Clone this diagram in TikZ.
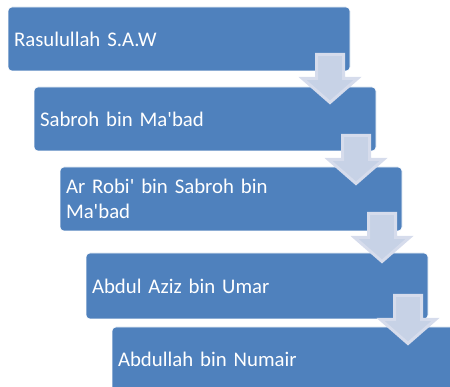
\documentclass[tikz,border=0pt]{standalone}
\usepackage{fontspec}
\setmainfont{Carlito}
\usepackage{tikz}
\usetikzlibrary{calc,positioning}

\definecolor{stepblue}{HTML}{4F81BD}
\definecolor{arrowfill}{HTML}{C7D2E6}
\definecolor{arrowline}{HTML}{D6DCEC}
\newcommand{\apos}{\textquotesingle}

\begin{document}
\begin{tikzpicture}[x=1pt,y=1pt,
    stepbox/.style={draw=white, line width=0.6pt, fill=stepblue, rounded corners=4pt,
        anchor=north west, minimum height=64pt, text width=330pt, inner xsep=6pt,
        inner ysep=0pt, outer sep=0pt, align=left, text=white,
        font=\fontsize{20.8}{24.5}\selectfont},
    downarrow/.pic={
        \draw[fill=arrowfill, draw=arrowline, line width=3pt]
        (-13.5,0) -- (13.5,0) -- (13.5,-24) -- (27.5,-24) -- (0,-48)
        -- (-27.5,-24) -- (-13.5,-24) -- cycle;
    }]
    \useasboundingbox (0,0) rectangle (450,-387);
    \clip (0,0) rectangle (450,-387);

    \node[stepbox] (n0) at (8,-7) {Rasulullah S.A.W};
    \node[stepbox] (n1) at (34,-87) {Sabroh bin Ma\apos bad};
    \node[stepbox] (n2) at (60,-167) {Ar Robi\apos{} bin Sabroh bin\\Ma\apos bad};
    \node[stepbox, minimum height=66pt] (n3) at (86,-253) {Abdul Aziz bin Umar};
    \node[stepbox] (n4) at (112,-327) {Abdullah bin Numair};

    \pic at ($(n0.south east)+(-20,16.5)$) {downarrow};
    \pic at ($(n1.south east)+(-20,15.5)$) {downarrow};
    \pic at ($(n2.south east)+(-20,17.5)$) {downarrow};
    \pic at ($(n3.south east)+(-20,23.5)$) {downarrow};
\end{tikzpicture}
\end{document}
